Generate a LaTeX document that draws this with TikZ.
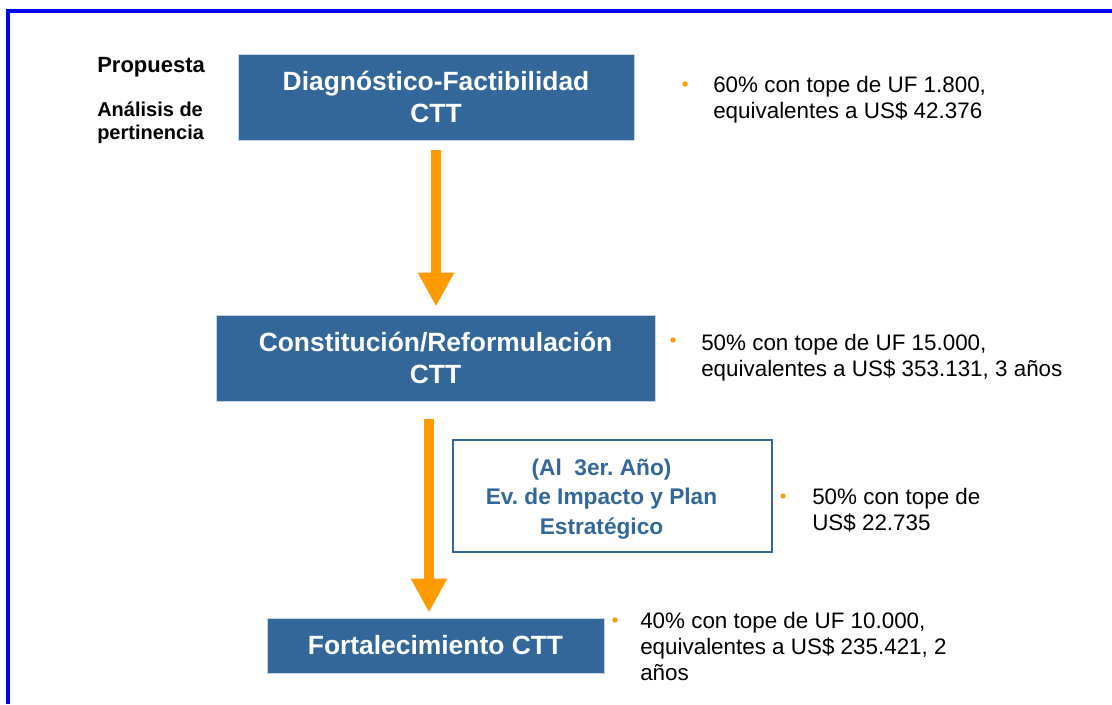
\documentclass[tikz,border=0pt]{standalone}
\usepackage{fontspec}
\setmainfont{Liberation Sans}
\usepackage{tikz}
\usetikzlibrary{arrows.meta,positioning}
\frenchspacing

\definecolor{ctblue}{RGB}{51,102,153}
\definecolor{ctorange}{RGB}{255,153,0}
\definecolor{ctframe}{RGB}{0,0,255}
\definecolor{ctedge}{RGB}{196,210,226}

\tikzset{
  fillbox/.style={fill=ctblue, draw=ctedge, line width=0.75pt, text=white, align=center, inner sep=0pt,
    font=\fontsize{19.8}{23.5}\selectfont\bfseries},
  linebox/.style={fill=white, draw=ctblue, line width=1.5pt, inner sep=0pt},
  linetext/.style={text=ctblue, align=center, inner sep=0pt, font=\fontsize{17}{22}\selectfont\bfseries},
  notetext/.style={anchor=base west, inner sep=0pt, align=left, font=\fontsize{16.8}{19.5}\selectfont},
  sidelabel/.style={anchor=base west, inner sep=0pt, align=left, font=\fontsize{15}{17}\selectfont\bfseries},
  bulletdot/.style={circle, fill=ctorange, inner sep=0pt, minimum size=4pt},
  flowarrow/.style={draw=ctorange, line width=7.5pt, -{Triangle[width=25.5pt,length=25.5pt]}},
  frameline/.style={draw=ctframe, line width=3pt},
}

\begin{document}
\begin{tikzpicture}[x=0.75pt,y=0.75pt,yscale=-1,xscale=1]
\useasboundingbox (0,0) rectangle (1112,704);

% Frame
\draw[frameline] (8,704) -- (8,10.5) -- (1112,10.5);

% Boxes
\node[fillbox, minimum width=297pt, minimum height=64.5pt] (diag) at (436,97) {Diagnóstico-Factibilidad\\CTT};
\node[fillbox, minimum width=329.25pt, minimum height=64.5pt] (const) at (435.5,358) {Constitución/Reformulación\\CTT};
\node[linebox, minimum width=239.25pt, minimum height=84pt,
  label={[linetext, xshift=-8.25pt, yshift=-2.25pt]center:(Al~~3er. Año)\\Ev. de Impacto y Plan\\Estratégico}] (impact) at (612.5,496) {};
\node[fillbox, minimum width=252.75pt, minimum height=41.25pt] (fort) at (435.5,645.5) {Fortalecimiento CTT};

% Text Node
\node[sidelabel, font=\fontsize{16.5}{19}\selectfont\bfseries] (prop) at (97,72) {Propuesta};
% Text Node
\node[sidelabel] (anal) at (97,139) {Análisis de\\pertinencia};

% Bullets (base = last line)
\node[bulletdot] (dot1) at (685,84) {};
\node[notetext] (note1) at (713,118) {60\% con tope de UF 1.800,\\equivalentes a US\$ 42.376};
\node[bulletdot] (dot2) at (673,340) {};
\node[notetext] (note2) at (701,376) {50\% con tope de UF 15.000,\\equivalentes a US\$ 353.131, 3 años};
\node[bulletdot] (dot3) at (783,496) {};
\node[notetext] (note3) at (812,530) {50\% con tope de\\US\$ 22.735};
\node[bulletdot] (dot4) at (615,620) {};
\node[notetext] (note4) at (640,680) {40\% con tope de UF 10.000,\\equivalentes a US\$ 235.421, 2\\años};

% Arrows
\draw[flowarrow, shorten <=6.75pt, shorten >=6pt] (diag.south) -- (diag.south |- const.north);
\draw[flowarrow, shorten <=12.75pt, shorten >=3.75pt] ([xshift=-4.875pt]const.south) -- ([xshift=-4.875pt]const.south |- fort.north);

\end{tikzpicture}
\end{document}
